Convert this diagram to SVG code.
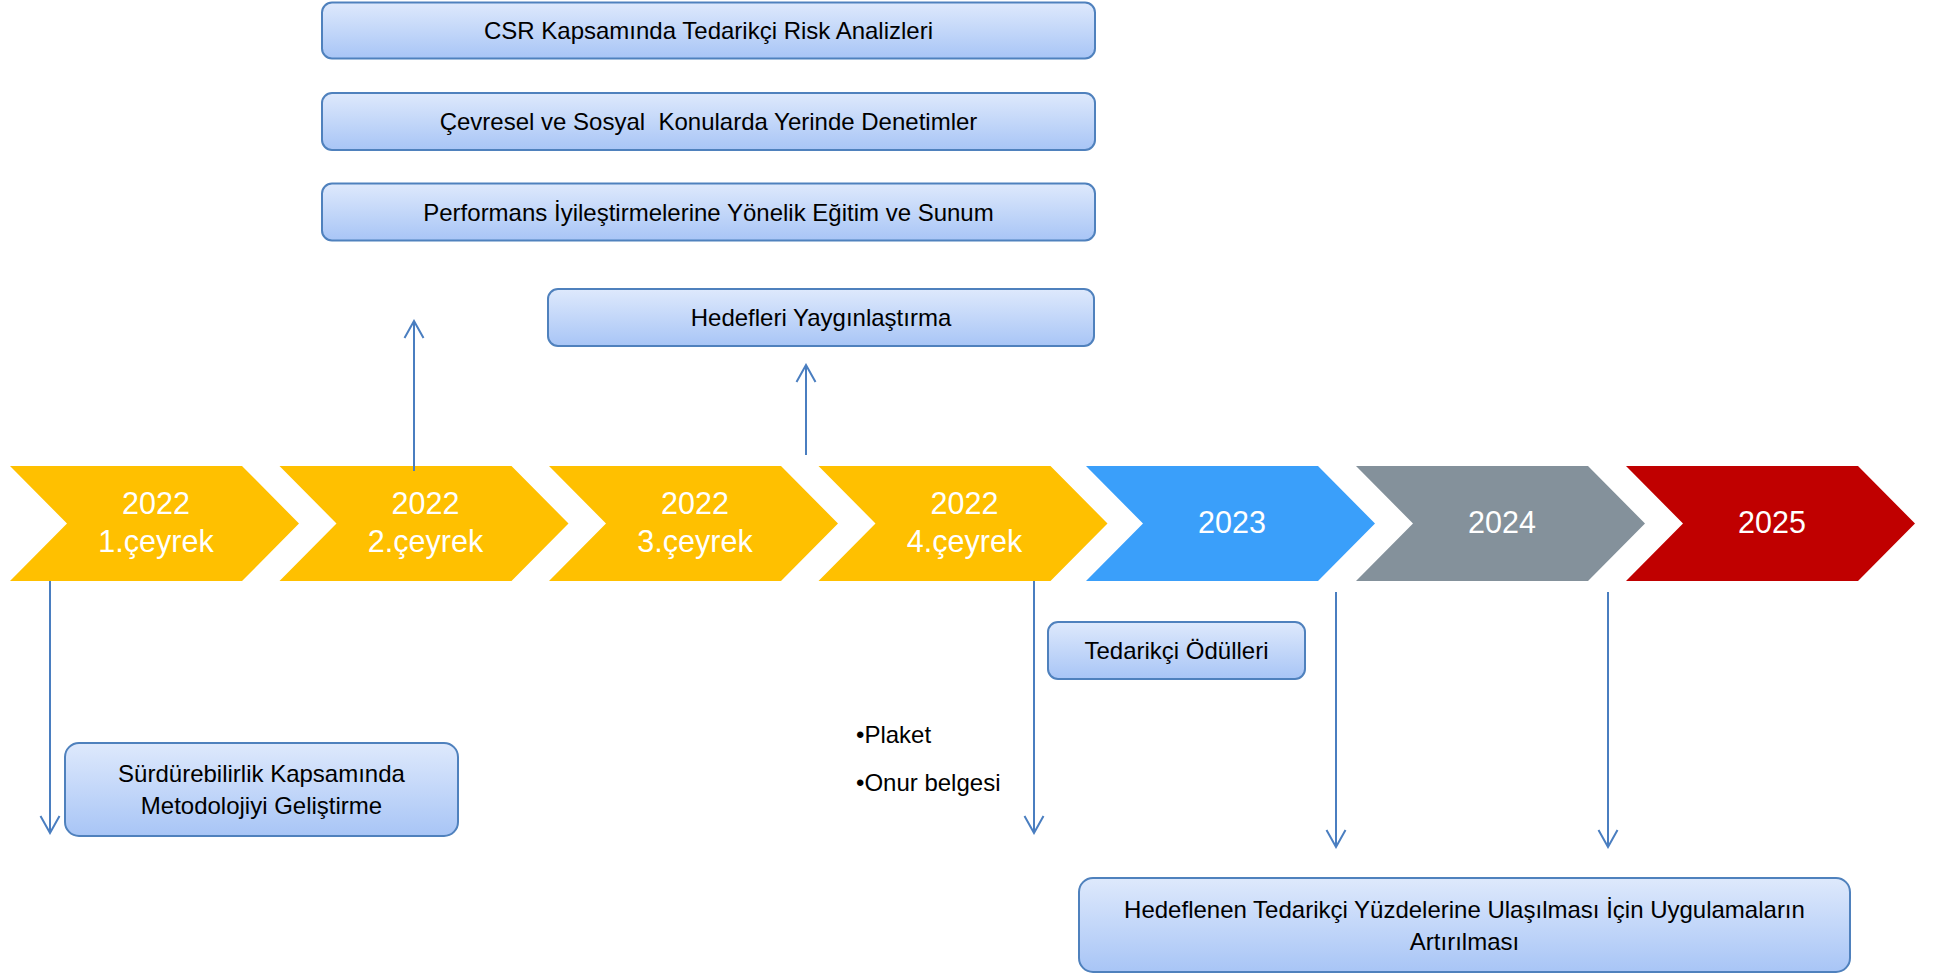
<svg xmlns="http://www.w3.org/2000/svg" width="1937" height="975" viewBox="0 0 1937 975">
<style>
.box{fill:url(#bg);stroke:#4F81BD;stroke-width:2}
.bt{font-family:"Liberation Sans",Arial,sans-serif;font-size:24px;fill:#000;text-anchor:middle}
.ct{font-family:"Liberation Sans",Arial,sans-serif;font-size:30.5px;fill:#fff;text-anchor:middle}
.lt{font-family:"Liberation Sans",Arial,sans-serif;font-size:24px;fill:#000}
.conn{stroke:#4A7EC0;stroke-width:2;fill:none;marker-end:url(#ah)}
</style>
<defs>
<linearGradient id="bg" x1="0" y1="0" x2="0" y2="1">
<stop offset="0" stop-color="#DEE9FC"/>
<stop offset="1" stop-color="#A8C5F6"/>
</linearGradient>
<marker id="ah" markerUnits="userSpaceOnUse" viewBox="-20 -12 22 24" markerWidth="22" markerHeight="24" refX="0" refY="0" orient="auto">
<path d="M-17,-9.5 L0,0 L-17,9.5" fill="none" stroke="#4A7EC0" stroke-width="2"/>
</marker>
</defs>

<g id="chevron-2022-q1">
<polygon points="10,466 242,466 299,523.5 242,581 10,581 67,523.5" fill="#FFC000"/>
<text class="ct" x="156" y="514">2022</text>
<text class="ct" x="156" y="552">1.çeyrek</text>
</g>
<g id="chevron-2022-q2">
<polygon points="279.5,466 511.5,466 568.5,523.5 511.5,581 279.5,581 336.5,523.5" fill="#FFC000"/>
<text class="ct" x="425.5" y="514">2022</text>
<text class="ct" x="425.5" y="552">2.çeyrek</text>
</g>
<g id="chevron-2022-q3">
<polygon points="549,466 781,466 838,523.5 781,581 549,581 606,523.5" fill="#FFC000"/>
<text class="ct" x="695" y="514">2022</text>
<text class="ct" x="695" y="552">3.çeyrek</text>
</g>
<g id="chevron-2022-q4">
<polygon points="818.5,466 1050.5,466 1107.5,523.5 1050.5,581 818.5,581 875.5,523.5" fill="#FFC000"/>
<text class="ct" x="964.5" y="514">2022</text>
<text class="ct" x="964.5" y="552">4.çeyrek</text>
</g>
<g id="chevron-2023">
<polygon points="1086,466 1318,466 1375,523.5 1318,581 1086,581 1143,523.5" fill="#3A9FFA"/>
<text class="ct" x="1232" y="533">2023</text>
</g>
<g id="chevron-2024">
<polygon points="1356,466 1588,466 1645,523.5 1588,581 1356,581 1413,523.5" fill="#84919B"/>
<text class="ct" x="1502" y="533">2024</text>
</g>
<g id="chevron-2025">
<polygon points="1626,466 1858,466 1915,523.5 1858,581 1626,581 1683,523.5" fill="#C00000"/>
<text class="ct" x="1772" y="533">2025</text>
</g>

<g id="box-csr">
<rect class="box" x="322" y="2.5" width="773" height="56" rx="10"/>
<text class="bt" x="708.5" y="39">CSR Kapsamında Tedarikçi Risk Analizleri</text>
</g>
<g id="box-denetim">
<rect class="box" x="322" y="93" width="773" height="57" rx="10"/>
<text class="bt" x="708.5" y="130" xml:space="preserve">Çevresel ve Sosyal  Konularda Yerinde Denetimler</text>
</g>
<g id="box-egitim">
<rect class="box" x="322" y="183.5" width="773" height="57" rx="10"/>
<text class="bt" x="708.5" y="220.5">Performans İyileştirmelerine Yönelik Eğitim ve Sunum</text>
</g>
<g id="box-hedefler">
<rect class="box" x="548" y="289" width="546" height="57" rx="10"/>
<text class="bt" x="821" y="326">Hedefleri Yaygınlaştırma</text>
</g>
<g id="box-metodoloji">
<rect class="box" x="65" y="743" width="393" height="93" rx="14"/>
<text class="bt" x="261.5" y="781.5">Sürdürebilirlik Kapsamında</text>
<text class="bt" x="261.5" y="813.5">Metodolojiyi Geliştirme</text>
</g>
<g id="box-oduller">
<rect class="box" x="1048" y="622" width="257" height="57" rx="10"/>
<text class="bt" x="1176.5" y="658.5">Tedarikçi Ödülleri</text>
</g>
<g id="bullets">
<text class="lt" x="856" y="742.5">•Plaket</text>
<text class="lt" x="856" y="790.5">•Onur belgesi</text>
</g>
<g id="box-uygulama">
<rect class="box" x="1079" y="878" width="771" height="94" rx="14"/>
<text class="bt" x="1464.5" y="917.5">Hedeflenen Tedarikçi Yüzdelerine Ulaşılması İçin Uygulamaların</text>
<text class="bt" x="1464.5" y="949.5">Artırılması</text>
</g>

<g id="connectors">
<line class="conn" x1="50" y1="581" x2="50" y2="833"/>
<line class="conn" x1="414" y1="471" x2="414" y2="321"/>
<line class="conn" x1="806" y1="455" x2="806" y2="365"/>
<line class="conn" x1="1034" y1="581" x2="1034" y2="833"/>
<line class="conn" x1="1336" y1="592" x2="1336" y2="847"/>
<line class="conn" x1="1608" y1="592" x2="1608" y2="847"/>
</g>
</svg>
